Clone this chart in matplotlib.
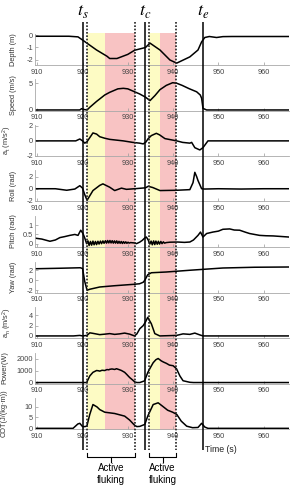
import matplotlib.pyplot as plt

plt.rcParams['font.family'] = ['Liberation Sans', 'DejaVu Sans']
plt.rcParams['mathtext.default'] = 'regular'

# ---- data ----
t_depth = [909.5, 917.0, 919.0, 920.0, 921.0, 923.1, 925.4, 926.0, 927.6, 930.0, 931.5, 933.9,
           934.9, 937.1, 939.3, 940.8, 943.7, 945.5, 946.3, 947.0, 948.0, 949.6, 951.0, 953.0, 965.6]
depth = [-0.1, -0.1, -0.15, -0.4, -0.66, -1.2, -1.7, -1.88, -1.88, -1.55, -1.22, -1.0,
         -0.65, -1.2, -2.0, -2.25, -1.75, -1.2, -0.55, -0.2, -0.12, -0.2, -0.13, -0.12, -0.12]

t_speed = [909.5, 919.4, 919.8, 920.2, 921.0, 921.6, 923.1, 924.9, 926.0, 927.8, 929.0, 930.0,
           931.5, 932.6, 933.9, 934.9, 936.0, 937.1, 938.5, 939.9, 940.8, 942.0, 943.5, 945.2,
           946.0, 946.3, 946.6, 947.4, 965.6]
speed = [0.0, 0.0, 0.25, 0.1, 0.0, 0.5, 1.6, 2.8, 3.3, 3.95, 4.05, 3.95,
         3.4, 3.0, 2.4, 1.75, 2.7, 3.8, 4.6, 5.1, 5.0, 4.6, 4.0, 3.4,
         2.8, 2.2, 0.3, 0.0, 0.0]

t_at = [909.5, 918.5, 919.4, 920.0, 920.5, 921.0, 922.3, 923.1, 923.8, 924.9, 926.0, 927.5, 929.0,
        931.1, 932.6, 933.4, 934.0, 934.5, 935.2, 936.3, 937.0, 938.2, 939.5, 940.8, 942.1,
        943.7, 944.1, 944.8, 945.9, 946.6, 947.7, 965.6]
a_t = [0.0, 0.0, 0.25, 0.0, -0.3, -0.1, 1.05, 0.9, 0.55, 0.35, 0.2, 0.1, 0.0,
       -0.2, -0.3, -0.4, -0.15, 0.3, 0.7, 1.0, 0.8, 0.3, 0.15, 0.0, -0.2,
       -0.3, -0.2, -0.9, -1.2, -0.9, 0.0, 0.0]

t_roll = [909.5, 914.0, 916.5, 918.3, 919.4, 920.0, 920.5, 921.0, 922.3, 923.8, 924.5, 926.0,
          927.1, 928.6, 929.7, 931.5, 933.9, 934.5, 935.5, 937.1, 940.8, 943.7, 944.4, 944.8,
          945.2, 945.5, 946.3, 947.0, 950.0, 955.0, 960.0, 965.6]
roll = [0.0, 0.0, -0.25, -0.05, 0.5, 0.1, -1.0, -1.9, -0.3, 0.55, 0.8, 0.25,
        -0.3, 0.1, -0.1, 0.0, 0.15, 0.4, 0.2, -0.3, -0.25, -0.15, 1.0, 2.7,
        2.0, 1.35, 0.0, -0.05, 0.0, -0.05, 0.0, 0.0]

t_pitch = [909.5, 911.0, 912.8, 914.0, 915.0, 916.0, 917.2, 918.3, 919.0, 919.6, 920.1, 920.5,
           920.9, 921.2, 921.45, 921.75, 922.0, 922.3, 922.55, 922.85, 923.1, 923.4, 923.65,
           923.95, 924.2, 924.5, 924.75, 925.05, 925.3, 925.55, 925.8, 926.05, 926.3, 926.55,
           926.8, 927.05, 927.3, 927.55, 927.8, 928.05, 928.3, 928.55, 928.8, 929.05, 929.3,
           929.55, 929.8, 930.05, 930.3, 930.6, 931.0, 931.5, 931.9, 932.6, 933.2, 933.7,
           934.1, 934.5, 934.86, 935.15, 935.4, 935.7, 935.95, 936.2, 936.5, 936.75, 937.0,
           937.3, 937.55, 937.85, 938.1, 938.5, 939.3, 941.0, 942.5, 943.7, 944.5, 945.5,
           946.05, 946.6, 947.4, 948.8, 950.0, 951.0, 952.5, 953.5, 954.7, 956.0, 956.9,
           958.0, 959.1, 960.5, 962.1, 965.6]
pitch = [0.3, 0.25, 0.13, 0.2, 0.33, 0.38, 0.45, 0.5, 0.45, 0.73, 0.55, 0.3,
         0.0, 0.15, -0.1, 0.12, -0.08, 0.14, -0.06, 0.12, -0.05, 0.13, -0.02,
         0.14, 0.0, 0.15, 0.02, 0.16, 0.03, 0.17, 0.04, 0.17, 0.04, 0.16,
         0.03, 0.15, 0.03, 0.15, 0.02, 0.13, 0.02, 0.12, 0.01, 0.11, 0.02,
         0.1, 0.02, 0.08, 0.03, 0.06, 0.05, 0.04, 0.0, 0.08, 0.18, 0.3,
         0.36, 0.2, -0.02, 0.14, -0.06, 0.15, -0.05, 0.14, -0.03, 0.13, -0.02,
         0.12, 0.0, 0.1, 0.03, 0.06, 0.08, 0.09, 0.07, 0.09, 0.2, 0.45,
         0.63, 0.36, 0.55, 0.63, 0.68, 0.78, 0.8, 0.74, 0.73, 0.62, 0.55,
         0.5, 0.45, 0.43, 0.42, 0.36]

t_yaw = [909.5, 915.0, 919.5, 920.0, 920.5, 921.0, 921.6, 923.8, 927.0, 931.5, 932.6, 933.4,
         933.75, 934.4, 935.2, 938.5, 943.7, 951.0, 958.0, 965.6]
yaw = [2.3, 2.4, 2.5, 2.35, -0.3, -2.0, -1.8, -1.35, -1.1, -0.8, -0.7, -0.4,
       0.0, 1.1, 1.5, 1.65, 2.0, 2.45, 2.6, 2.65]

t_an = [909.5, 918.0, 919.4, 920.0, 921.0, 921.6, 922.3, 923.8, 925.0, 926.0, 927.1, 928.2,
        929.3, 930.4, 931.5, 932.0, 932.65, 933.4, 933.9, 934.4, 935.2, 935.96, 937.06,
        940.75, 942.2, 943.7, 944.8, 945.9, 946.6, 965.6]
a_n = [0.0, 0.0, 0.1, 0.0, 0.1, 0.6, 0.5, 0.25, 0.35, 0.45, 0.3, 0.4,
       0.55, 0.35, 0.0, 0.4, 1.4, 2.0, 2.7, 3.6, 2.35, 0.45, 0.0,
       0.1, 0.4, 0.3, 0.55, 0.2, 0.0, 0.0]

t_power = [909.5, 920.9, 921.6, 922.3, 923.1, 923.5, 923.8, 924.3, 924.9, 925.4, 925.8, 926.0,
           926.5, 927.1, 927.5, 928.2, 928.6, 929.3, 929.7, 930.4, 931.1, 931.5, 932.0, 932.65,
           933.7, 934.4, 935.0, 935.6, 936.2, 936.7, 937.4, 937.9, 938.5, 939.2, 940.0, 940.75,
           941.5, 942.2, 943.7, 944.5, 965.6]
power = [0, 0, 550, 850, 1000, 980, 950, 1020, 1000, 1080, 1060, 1100,
         1130, 1090, 1150, 1060, 1000, 850, 700, 420, 200, 60, 0, 0,
         140, 830, 1250, 1650, 1900, 2000, 1800, 1700, 1600, 1450, 1400, 1150,
         550, 150, 20, 0, 0]

t_cot = [909.5, 917.9, 918.96, 919.4, 920.0, 920.5, 920.95, 921.6, 922.3, 923.2, 923.8, 924.9,
         927.1, 929.3, 930.4, 931.5, 932.0, 932.65, 933.75, 934.4, 935.6, 936.7, 937.7, 938.8,
         939.9, 940.8, 941.8, 943.0, 944.3, 945.5, 946.3, 947.0, 947.7, 965.6]
cot = [0, 0, 2.0, 2.3, 0.8, 0.8, 1.0, 6.4, 10.9, 9.8, 8.6, 7.4,
       6.8, 5.6, 3.8, 1.4, 0.8, 0.9, 1.8, 5.6, 10.9, 11.7, 10.1, 8.3,
       7.4, 6.4, 3.3, 1.0, 0.3, 0.4, 2.3, 0.6, 0.0, 0.0]

# event times (s)
t_events = [920.0, 933.9, 946.6]
event_names = [r'$\mathit{t}_{\mathit{s}}$', r'$\mathit{t}_{\mathit{c}}$', r'$\mathit{t}_{\mathit{e}}$']
fluke_start = [921.0, 934.6]
fluke_switch = [924.9, 937.06]
fluke_end = [931.55, 940.75]

xticks = [910, 920, 930, 940, 950, 960]

labels = ['Depth (m)', 'Speed (m/s)', 'a$_t$ (m/s$^2$)', 'Roll (rad)', 'Pitch (rad)',
          'Yaw (rad)', 'a$_n$ (m/s$^2$)', 'Power(W)', 'COT(J/(kg\u00b7m))']
series = [(t_depth, depth), (t_speed, speed), (t_at, a_t), (t_roll, roll), (t_pitch, pitch),
          (t_yaw, yaw), (t_an, a_n), (t_power, power), (t_cot, cot)]
ylims = [(-2.4, 0.08), (-0.1, 5.7), (-2.0, 2.1), (-2.1, 3.0), (-0.18, 1.5),
         (-2.45, 3.75), (-0.4, 5.6), (-80, 2500), (-0.3, 13.9)]
yticks = [[-2, -1, 0], [0, 5], [-2, 0, 2], [-2, 0, 2], [0, 0.5, 1],
          [-2, 0, 2], [0, 2, 4], [0, 1000, 2000], [0, 5, 10]]
label_x = [17, 17, 14, 17, 17, 17, 14, 8, 8]

# ---- layout (pixels) ----
W, H = 290, 486
L, R = 35, 289
xlim = (909.5, 965.6)
yellow = '#fdfbc4'
pink = '#f8c3c3'

fig = plt.figure(figsize=(W / 100, H / 100), dpi=100)

bg = fig.add_axes([L / W, 0, (R - L) / W, 1], zorder=0)
bg.set_xlim(xlim)
bg.set_ylim(H, 0)
bg.axis('off')
for a, b, c in zip(fluke_start, fluke_switch, fluke_end):
    bg.fill_between([a, b], 33, 430, color=yellow, lw=0)
    bg.fill_between([b, c], 33, 430, color=pink, lw=0)

for i, (t, v) in enumerate(series):
    bottom = 65 + 45.5 * i
    ax = fig.add_axes([L / W, 1 - bottom / H, (R - L) / W, 31 / H], zorder=1)
    ax.set_facecolor('none')
    ax.plot(t, v, color='black', lw=1.1)
    ax.set_xlim(xlim)
    ax.set_ylim(ylims[i])
    ax.set_xticks(xticks)
    ax.set_yticks(yticks[i], [f'{y:g}' for y in yticks[i]])
    for s in ['top', 'right']:
        ax.spines[s].set_visible(False)
    for s in ['left', 'bottom']:
        ax.spines[s].set_color('#a8a8a8')
        ax.spines[s].set_linewidth(0.6)
    ax.tick_params(direction='in', length=2, width=0.5, color='#999999',
                   labelcolor='#444444', labelsize=5.3, pad=1.5)
    ax.tick_params(axis='x', pad=2.6)
    ax.set_ylabel(labels[i], fontsize=5.3, color='#333333')
    ax.yaxis.set_label_coords((label_x[i] - L) / (R - L), 0.5)

ov = fig.add_axes([L / W, 0, (R - L) / W, 1], zorder=5)
ov.set_xlim(xlim)
ov.set_ylim(H, 0)
ov.axis('off')
ov.set_facecolor('none')
ov.vlines(t_events, 22, 450, color='black', lw=1.1)
ov.vlines(fluke_start + fluke_end, 22, 450, color='#222222', lw=1.2, linestyles=(0, (1, 1)))
for t, name in zip(t_events, event_names):
    ov.text(t, 12, name, ha='center', va='center', fontsize=13, math_fontfamily='stix',
            clip_on=False)
for a, c in zip(fluke_start, fluke_end):
    m = (a + c) / 2
    ov.plot([a, a, c, c], [453, 457, 457, 453], color='black', lw=0.8, clip_on=False)
    ov.plot([m, m], [457, 462], color='black', lw=0.8, clip_on=False)
    ov.text(m, 468, 'Active', ha='center', va='center', fontsize=7, clip_on=False)
    ov.text(m, 480, 'fluking', ha='center', va='center', fontsize=7, clip_on=False)
ov.text(950.5, 449, 'Time (s)', ha='center', va='center', fontsize=6.3, color='#222222',
        clip_on=False)

fig.savefig('out.png', dpi=100)
